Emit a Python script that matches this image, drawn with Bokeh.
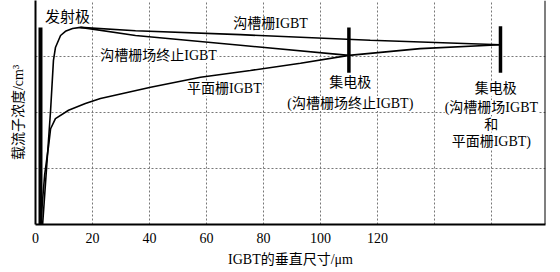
from bokeh.plotting import figure
from bokeh.models import Range1d, FixedTicker, Label, Span
from bokeh.embed import file_html
from bokeh.resources import INLINE

# ---- data (x in µm, y in arbitrary log-concentration units) ----
x_label_ticks = [0, 20, 40, 60, 80, 100, 120]
x_grid_ticks = [0, 20, 40, 60, 80, 100, 120, 140, 160]
y_grid_ticks = [1, 2, 3]

emitter_x = [1.75, 1.75]
emitter_y = [0.0, 3.52]

collector_fs_x = [110.0, 110.0]
collector_fs_y = [2.71, 3.52]

collector_x = [163.2, 163.2]
collector_y = [2.71, 3.54]

# trench-gate IGBT (rise near emitter, then slowly falling to collector)
trench_x = [2.5, 5.3, 6.3, 7.0, 8.8, 10.5, 13.0, 15.8, 35.1, 71.9, 117.5, 163.2]
trench_y = [0.0, 2.04, 2.93, 3.16, 3.375, 3.45, 3.50, 3.52, 3.46, 3.39, 3.29, 3.21]

# trench-gate field-stop IGBT (shares the rise, falls to FS collector)
fs_x = [15.8, 35.1, 71.9, 110.0]
fs_y = [3.52, 3.375, 3.20, 3.02]

# planar-gate IGBT
planar_x = [1.8, 3.2, 4.6, 5.3, 7.0, 11.6, 17.5, 22.8, 40.4, 57.9, 75.4, 93.0, 110.0, 135.0, 163.2]
planar_y = [0.0, 0.88, 1.41, 1.71, 1.89, 2.04, 2.16, 2.25, 2.45, 2.63, 2.75, 2.88, 3.02, 3.14, 3.21]

FONT = "Liberation Serif, Noto Sans CJK SC"

p = figure(width=560, height=272, x_range=Range1d(0, 179), y_range=Range1d(0, 4),
           output_backend="svg", toolbar_location=None,
           min_border_left=35, min_border_right=15, min_border_top=0, min_border_bottom=48)
p.outline_line_color = None
p.background_fill_color = "white"
p.border_fill_color = "white"

# axes
p.xaxis.ticker = FixedTicker(ticks=x_label_ticks)
p.xaxis.major_tick_in = 0
p.xaxis.major_tick_out = 0
p.xaxis.minor_tick_in = 0
p.xaxis.minor_tick_out = 0
p.xaxis.major_label_standoff = 8
p.xaxis.major_label_text_font = FONT
p.xaxis.major_label_text_font_size = "14px"
p.xaxis.major_label_text_color = "black"
p.xaxis.axis_line_width = 2
p.xaxis.axis_line_color = "black"
p.xaxis.axis_label = "IGBT的垂直尺寸/μm"
p.xaxis.axis_label_text_font = FONT
p.xaxis.axis_label_text_font_style = "normal"
p.xaxis.axis_label_text_font_size = "14px"
p.xaxis.axis_label_text_color = "black"
p.xaxis.axis_label_standoff = 6

p.yaxis.ticker = FixedTicker(ticks=[])
p.yaxis.major_tick_in = 0
p.yaxis.major_tick_out = 0
p.yaxis.minor_tick_in = 0
p.yaxis.minor_tick_out = 0
p.yaxis.major_label_standoff = 0
p.yaxis.axis_line_width = 2
p.yaxis.axis_line_color = "black"
p.yaxis.axis_label = "载流子浓度/cm³"
p.yaxis.axis_label_text_font = FONT
p.yaxis.axis_label_text_font_style = "normal"
p.yaxis.axis_label_text_font_size = "14px"
p.yaxis.axis_label_text_color = "black"
p.yaxis.axis_label_standoff = 10

p.xgrid.ticker = FixedTicker(ticks=x_grid_ticks)
p.ygrid.ticker = FixedTicker(ticks=y_grid_ticks)
p.xgrid.grid_line_color = "#777777"
p.xgrid.grid_line_dash = "2 2"
p.xgrid.grid_line_width = 1
p.ygrid.grid_line_color = "#777777"
p.ygrid.grid_line_dash = "2 2"
p.ygrid.grid_line_width = 1

p.add_layout(Span(location=179, dimension="height", line_color="black", line_width=2))

# curves
p.line(trench_x, trench_y, line_color="black", line_width=1.6)
p.line(fs_x, fs_y, line_color="black", line_width=1.6)
p.line(planar_x, planar_y, line_color="black", line_width=1.6)

# electrodes
p.line(emitter_x, emitter_y, line_color="black", line_width=4)
p.line(collector_fs_x, collector_fs_y, line_color="black", line_width=3.5)
p.line(collector_x, collector_y, line_color="black", line_width=3.5)

def lab(x, y, t, size="14px"):
    p.add_layout(Label(x=x, y=y, text=t, text_font=FONT, text_font_size=size,
                       text_align="center", text_baseline="middle", text_color="black",
                       background_fill_color="white", background_fill_alpha=1.0))

lab(11.2, 3.70, "发射极", "15px")
lab(82.5, 3.59, "沟槽栅IGBT")
lab(43.2, 3.02, "沟槽栅场终止IGBT")
lab(66.3, 2.43, "平面栅IGBT")
lab(110.5, 2.54, "集电极")
lab(110.5, 2.16, "(沟槽栅场终止IGBT)")
lab(161.5, 2.43, "集电极")
lab(160.0, 2.09, "(沟槽栅场IGBT")
lab(160.0, 1.79, "和")
lab(160.0, 1.48, "平面栅IGBT)")

open("out.html", "w").write(file_html(p, INLINE))
